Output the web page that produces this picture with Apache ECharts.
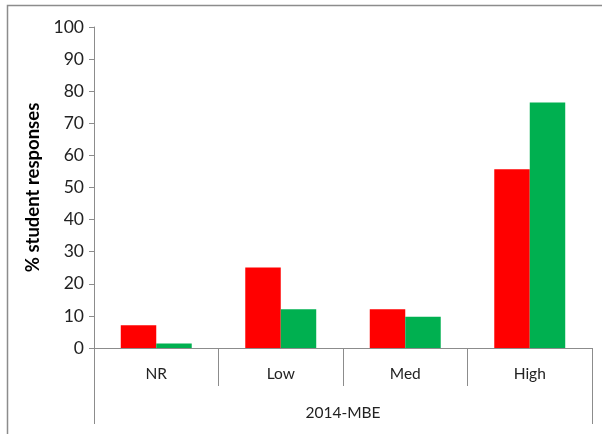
<!DOCTYPE html>
<html>
<head>
<meta charset="utf-8">
<script src="https://cdn.jsdelivr.net/npm/echarts@6/dist/echarts.min.js"></script>
<style>
  html, body { margin: 0; padding: 0; background: #fff; }
  #chart { width: 602px; height: 434px; }
</style>
</head>
<body>
<div id="chart"></div>
<script>
// Response levels and their shares (%)
const categories = ['NR', 'Low', 'Med', 'High'];
const groupLabel = ['2014-MBE'];
const seriesRed = [7.1, 25.1, 12.1, 55.7];
const seriesGreen = [1.4, 12.1, 9.7, 76.5];
const yTicks = { min: 0, max: 100, step: 10 };

const axisGrey = '#8c8c8c';
const font = 'Lato, "Open Sans", sans-serif';

const chart = echarts.init(document.getElementById('chart'), null, { renderer: 'canvas' });

chart.setOption({
  backgroundColor: '#ffffff',
  animation: false,
  graphic: [{
    type: 'rect',
    shape: { x: 7.5, y: 5.5, width: 800, height: 600 },
    style: { fill: 'none', stroke: axisGrey, lineWidth: 1.5 },
    silent: true
  }],
  grid: { left: 94, right: 10, top: 27, bottom: 86 },
  xAxis: [{
    type: 'category',
    data: categories,
    position: 'bottom',
    axisLine: { show: true, lineStyle: { color: axisGrey, width: 1 } },
    axisTick: { show: true, alignWithLabel: false, interval: 0, length: 38, lineStyle: { color: axisGrey } },
    axisLabel: { color: '#222', fontSize: 15.5, fontFamily: font, margin: 18, interval: 0 }
  }, {
    type: 'category',
    data: groupLabel,
    position: 'bottom',
    axisLine: { show: false },
    axisTick: { show: true, alignWithLabel: false, length: 76, lineStyle: { color: axisGrey } },
    axisLabel: { color: '#222', fontSize: 15.5, fontFamily: font, margin: 57 }
  }],
  yAxis: {
    type: 'value',
    min: yTicks.min,
    max: yTicks.max,
    interval: yTicks.step,
    name: '% student responses',
    nameLocation: 'middle',
    nameRotate: 90,
    nameGap: 38,
    nameTextStyle: { color: '#000', fontSize: 18.5, fontWeight: 'bold', fontFamily: font },
    axisLine: { show: true, lineStyle: { color: axisGrey, width: 1 } },
    axisTick: { show: true, length: 5, lineStyle: { color: axisGrey } },
    splitLine: { show: false },
    axisLabel: { color: '#222', fontSize: 17.5, fontFamily: font, margin: 10 }
  },
  series: [{
    type: 'bar',
    data: seriesRed,
    itemStyle: { color: '#ff0000' },
    barGap: '0%',
    barCategoryGap: '43%'
  }, {
    type: 'bar',
    data: seriesGreen,
    itemStyle: { color: '#00b050' },
    barGap: '0%',
    barCategoryGap: '43%'
  }]
});
</script>
</body>
</html>
